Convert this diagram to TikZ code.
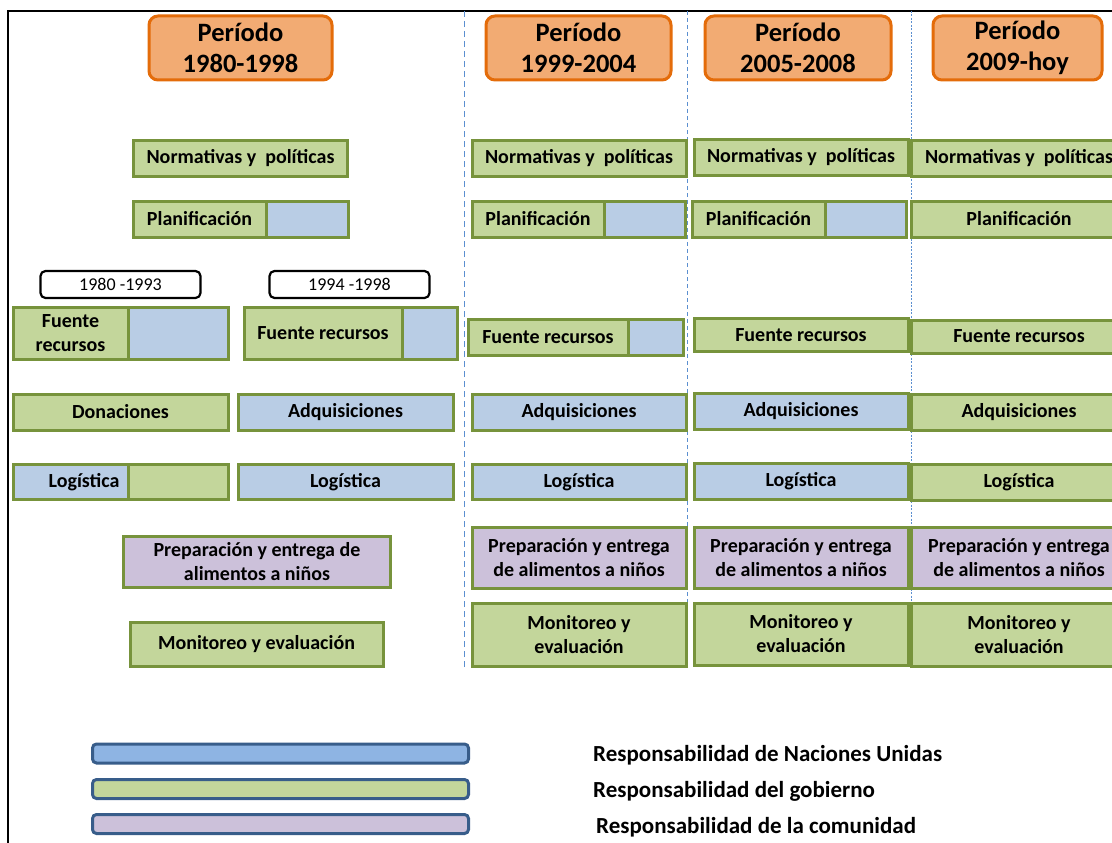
\documentclass[tikz,border=0pt]{standalone}
\usepackage{fontspec}
\setmainfont{Carlito}
\usepackage{tikz}
\usetikzlibrary{positioning}
\definecolor{govgreen}{HTML}{C3D69B}
\definecolor{unblue}{HTML}{B9CDE5}
\definecolor{compurple}{HTML}{CCC1DA}
\definecolor{boxline}{HTML}{77933C}
\definecolor{perfill}{HTML}{F2AB73}
\definecolor{perline}{HTML}{E46C0A}
\definecolor{divline}{HTML}{5B8FD0}
\definecolor{legblue}{HTML}{8EB4E3}
\definecolor{legline}{HTML}{385D8A}

\begin{document}
\begin{tikzpicture}[x=1pt,y=-1pt,every node/.style={font=\fontsize{20}{24}\selectfont\bfseries},
    task/.style={draw=boxline,line width=3pt,outer sep=0pt,inner sep=2pt,minimum width=214pt,minimum height=36pt,align=center},
    gov/.style={task,fill=govgreen},
    un/.style={task,fill=unblue},
    com/.style={task,fill=compurple},
    period/.style={draw=perline,fill=perfill,line width=3pt,rounded corners=9pt,minimum height=64pt,align=center,font=\fontsize{26.5}{31}\selectfont\bfseries},
    years/.style={draw=black,line width=2.2pt,rounded corners=5pt,fill=white,minimum width=160pt,minimum height=27pt,inner sep=0pt,font=\fontsize{18}{20}\selectfont},
    legbar/.style={draw=legline,line width=3pt,rounded corners=4pt,inner sep=0pt,minimum width=376pt,minimum height=19pt},
    legtext/.style={anchor=west,inner sep=0pt,font=\fontsize{23}{26}\selectfont\bfseries},
    divider/.style={divline,line width=1pt}]
    \fill[white] (0,0) rectangle (1112,843);
    \useasboundingbox (0,0) rectangle (1112,843);
    \draw[line width=2.5pt] (8,843) |- (1112,11);
    \draw[divider,dash pattern=on 6pt off 4pt] (464,11) -- (464,667);
    \draw[divider,dash pattern=on 4pt off 3pt] (687,11) -- (687,665);
    \draw[divider,dash pattern=on 2pt off 1.5pt] (911,11) -- (911,665);

    % periods
    \node[period,minimum width=183pt] (per1) at (240.5,48) {Período\\1980-1998};
    \node[period,minimum width=185pt] (per2) at (578.5,48) {Período\\1999-2004};
    \node[period,minimum width=186pt] (per3) at (798,48) {Período\\2005-2008};
    \node[period,minimum width=169pt] (per4) at (1017.5,48) {Período\\2009-hoy};

    % 1980-1998
    \node[gov] (norm1) at (240.5,158) {Normativas y\ \ políticas};
    \node[gov,minimum width=133pt] (plan1) at (199.5,219) {Planificación};
    \node[un,minimum width=82pt,right=0pt of plan1] (plan1x) {};
    \node[years] (yrs1) at (120.5,284.5) {1980 -1993};
    \node[years] (yrs2) at (349.5,284.5) {1994 -1998};
    \node[gov,minimum width=115pt,minimum height=52pt] (fte1a) at (70.5,333) {Fuente\\recursos};
    \node[un,minimum width=100pt,minimum height=52pt,right=0pt of fte1a] (fte1ax) {};
    \node[gov,minimum width=158pt,minimum height=52pt] (fte1b) at (323,333) {Fuente recursos};
    \node[un,minimum width=55pt,minimum height=52pt,right=0pt of fte1b] (fte1bx) {};
    \node[gov,minimum width=215pt] (don1) at (120.5,412) {Donaciones};
    \node[un,minimum width=215pt] (adq1) at (345.5,412) {Adquisiciones};
    \node[un,minimum width=115pt,minimum height=35pt,text width=98pt,align=right] (log1a) at (70.5,482) {Logística};
    \node[gov,minimum width=100pt,minimum height=35pt,right=0pt of log1a] (log1ax) {};
    \node[un,minimum width=215pt,minimum height=35pt] (log1b) at (345.5,482) {Logística};
    \node[com,minimum width=267pt,minimum height=51pt] (prep1) at (257,562) {Preparación y entrega de\\alimentos a niños};
    \node[gov,minimum width=253pt,minimum height=44pt] (mon1) at (256.5,644.5) {Monitoreo y evaluación};

    % 1999-2004
    \node[gov] (norm2) at (579,158) {Normativas y\ \ políticas};
    \node[gov,minimum width=132pt] (plan2) at (538,219) {Planificación};
    \node[un,minimum width=81pt,right=0pt of plan2] (plan2x) {};
    \node[gov,minimum width=160pt] (fte2) at (548,337) {Fuente recursos};
    \node[un,minimum width=55pt,right=0pt of fte2] (fte2x) {};
    \node[un] (adq2) at (579,412) {Adquisiciones};
    \node[un,minimum height=35pt] (log2) at (579,482) {Logística};
    \node[com,minimum height=61pt] (prep2) at (579,557.5) {Preparación y entrega\\de alimentos a niños};
    \node[gov,minimum height=63pt] (mon2) at (579,634.5) {Monitoreo y\\evaluación};

    % 2005-2008
    \node[gov] (norm3) at (801,157.5) {Normativas y\ \ políticas};
    \node[gov,minimum width=133pt] (plan3) at (758.5,219) {Planificación};
    \node[un,minimum width=81pt,right=0pt of plan3] (plan3x) {};
    \node[gov,minimum height=33pt] (fte3) at (801,335) {Fuente recursos};
    \node[un] (adq3) at (801,411.5) {Adquisiciones};
    \node[un] (log3) at (801,481) {Logística};
    \node[com,minimum height=61pt] (prep3) at (801,557.5) {Preparación y entrega\\de alimentos a niños};
    \node[gov,minimum height=62pt] (mon3) at (801,634) {Monitoreo y\\evaluación};

    % 2009-hoy
    \node[gov,minimum width=216pt] (norm4) at (1019,158) {Normativas y\ \ políticas};
    \node[gov,minimum width=216pt] (plan4) at (1019,219) {Planificación};
    \node[gov,minimum width=216pt,minimum height=33pt] (fte4) at (1019,336.5) {Fuente recursos};
    \node[gov,minimum width=216pt] (adq4) at (1019,412.5) {Adquisiciones};
    \node[gov,minimum width=216pt] (log4) at (1019,482.5) {Logística};
    \node[com,minimum width=216pt,minimum height=61pt] (prep4) at (1019,557.5) {Preparación y entrega\\de alimentos a niños};
    \node[gov,minimum width=216pt,minimum height=63pt] (mon4) at (1019,634.5) {Monitoreo y\\evaluación};

    % legend
    \node[legbar,fill=legblue] (leg1) at (280.5,753.5) {};
    \node[legbar,fill=govgreen] (leg2) at (280.5,789) {};
    \node[legbar,fill=compurple] (leg3) at (280.5,824) {};
    \node[legtext] (txt1) at (593,755) {Responsabilidad de Naciones Unidas};
    \node[legtext] (txt2) at (593,791) {Responsabilidad del gobierno};
    \node[legtext] (txt3) at (596,827) {Responsabilidad de la comunidad};
  \end{tikzpicture}
\end{document}
